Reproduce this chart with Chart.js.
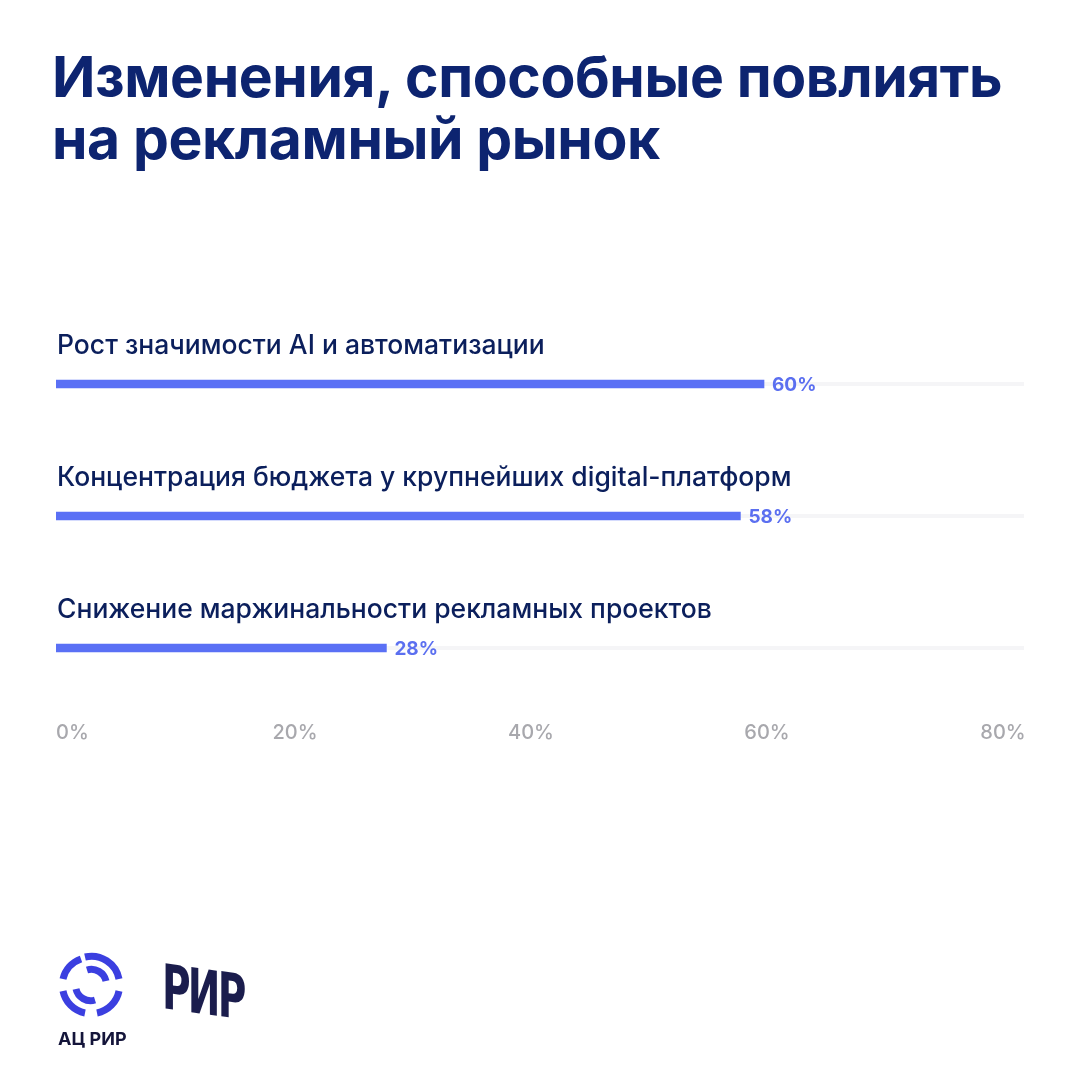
<!DOCTYPE html>
<html>
<head>
<meta charset="utf-8">
<script src="https://cdn.jsdelivr.net/npm/chart.js@4"></script>
<style>
  body { margin: 0; background: #fff; font-family: Inter, "Noto Sans", sans-serif; }
  #wrap { position: relative; width: 1080px; height: 1080px; overflow: hidden; }
  h1 { position: absolute; left: 52px; top: 46px; margin: 0; font-size: 57px; line-height: 62px;
       font-weight: 700; color: #0d2470; letter-spacing: -0.4px; }
  canvas { position: absolute; left: 0; top: 0; }
  .logo1 { position: absolute; left: 56px; top: 950px; }
  .logo1 span { position: absolute; left: 2px; top: 78px; font-weight: 700; font-size: 18px; color: #14153a; white-space: nowrap; }
  .logo2 { position: absolute; left: 162px; top: 950px; font-family: "Liberation Sans Narrow", "DejaVu Sans Condensed", sans-serif;
           font-weight: 700; font-size: 62px; color: #1b1d4d; transform: skewY(8deg) scaleX(0.7); transform-origin: left; letter-spacing: -4px; }
</style>
</head>
<body>
<div id="wrap">
  <h1>Изменения, способные повлиять<br>на рекламный рынок</h1>
  <canvas id="c" width="1080" height="1080"></canvas>
  <div class="logo1">
    <svg width="70" height="70" viewBox="-35 -35 70 70">
      <g fill="none" stroke="#3b3fe0" stroke-width="7" stroke-linecap="butt">
        <path d="M -6 -28 A 28 28 0 0 1 28 -6" />
        <path d="M 28 6 A 28 28 0 0 1 6 28" />
        <path d="M -6 28 A 28 28 0 0 1 -28 6" />
        <path d="M -28 -6 A 28 28 0 0 1 -10 -26" />
        <path d="M -4 -15 A 15 15 0 0 1 15 -4" />
        <path d="M 4 15 A 15 15 0 0 1 -15 4" />
      </g>
    </svg>
    <span>АЦ РИР</span>
  </div>
  <div class="logo2">РИР</div>
</div>
<script>
const categories = [
  'Рост значимости AI и автоматизации',
  'Концентрация бюджета у крупнейших digital-платформ',
  'Снижение маржинальности рекламных проектов'
];
const values = [60, 58, 28];
const tickValues = [0, 20, 40, 60, 80];

const overlay = {
  id: 'overlay',
  beforeDatasetsDraw(chart) {
    const { ctx, chartArea, scales: { y } } = chart;
    ctx.save();
    ctx.fillStyle = '#f5f5f7';
    categories.forEach((c, i) => {
      const py = y.getPixelForValue(i);
      ctx.fillRect(chartArea.left, py - 2, 1024 - chartArea.left, 4);
    });
    ctx.restore();
  },
  afterDatasetsDraw(chart) {
    const { ctx, scales: { x, y } } = chart;
    ctx.save();
    ctx.textBaseline = 'middle';
    categories.forEach((c, i) => {
      const py = y.getPixelForValue(i);
      ctx.font = '500 26.5px Inter, "Noto Sans", sans-serif';
      ctx.fillStyle = '#0b1f5c';
      ctx.textAlign = 'left';
      ctx.fillText(c, chart.chartArea.left + 1, py - 38);
      ctx.font = '700 19px Inter, "Noto Sans", sans-serif';
      ctx.fillStyle = '#5b6ff0';
      ctx.fillText(values[i] + '%', x.getPixelForValue(values[i]) + 8, py + 1);
    });
    ctx.font = '500 20px Inter, "Noto Sans", sans-serif';
    ctx.fillStyle = '#a8a8ad';
    tickValues.forEach((v, i) => {
      ctx.textAlign = i === 0 ? 'left' : 'center';
      ctx.fillText(v + '%', x.getPixelForValue(v) + (i === 0 ? 0 : 3), 733);
    });
    ctx.restore();
  }
};

new Chart(document.getElementById('c'), {
  type: 'bar',
  data: {
    labels: categories,
    datasets: [{
      data: values,
      backgroundColor: '#5a70f5',
      barThickness: 8,
      borderWidth: 0
    }]
  },
  options: {
    indexAxis: 'y',
    responsive: false,
    animation: false,
    layout: { padding: { left: 56, right: 80, top: 318, bottom: 366 } },
    plugins: { legend: { display: false }, tooltip: { enabled: false } },
    scales: {
      x: { display: false, min: 0, max: 80 },
      y: { display: false }
    }
  },
  plugins: [overlay]
});
</script>
</body>
</html>
